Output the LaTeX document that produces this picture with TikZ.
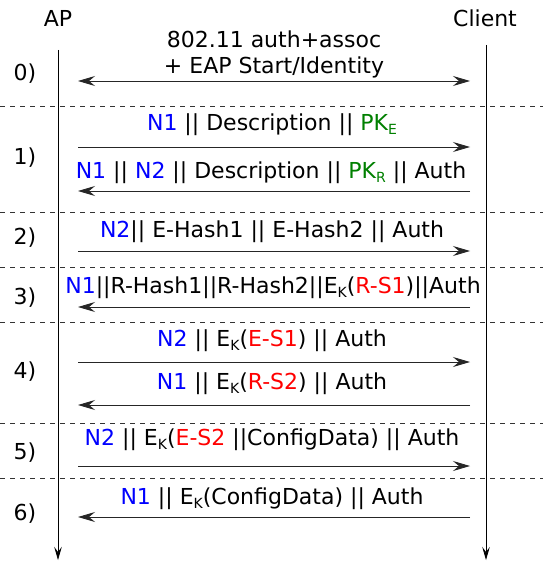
\documentclass[tikz,border=0pt]{standalone}
\usepackage{fontspec}
\setmainfont{DejaVu Sans}
\usetikzlibrary{arrows.meta}
\definecolor{nonce}{RGB}{0,0,255}
\definecolor{secret}{RGB}{255,0,0}
\definecolor{pubkey}{RGB}{0,128,0}
\newcommand\lowidx[1]{\raisebox{-0.3ex}{\fontsize{14}{14}\selectfont #1}}
\newcommand\Nc[1]{\textcolor{nonce}{#1}}
\newcommand\Sc[1]{\textcolor{secret}{#1}}
\newcommand\Pc[1]{\textcolor{pubkey}{#1}}
\tikzset{
  lbl/.style={inner sep=0pt, font=\fontsize{22}{26}\selectfont},
  msg/.style={draw=black!85, line width=0.9pt, -{Stealth[length=17pt,width=10pt,inset=6pt]}},
  lifeline/.style={draw=black, line width=0.8pt, -{Stealth[length=13pt,width=7.5pt,inset=5pt]}},
  sep/.style={draw=black!80, line width=0.6pt, dash pattern=on 5pt off 5pt},
}
\begin{document}
\begin{tikzpicture}[x=1pt,y=-1pt]
\useasboundingbox (0,0) rectangle (543,561);
\fill[white] (0,0) rectangle (543,561);

% participants
\node[lbl] (ap) at (58,18) {AP};
\node[lbl] (cl) at (485,18) {Client};
\coordinate (apT) at (58,50);  \coordinate (apB) at (58,560);
\coordinate (clT) at (486,45); \coordinate (clB) at (486,560);
\draw[lifeline] (apT) -- (apB);
\draw[lifeline] (clT) -- (clB);

% phase separators
\foreach \y/\n in {106/s1,212/s2,267/s3,322/s4,423/s5,478/s6}{
  \coordinate (\n L) at (0,\y); \coordinate (\n R) at (543,\y);
  \draw[sep] (\n L) -- (\n R);
}

% phase numbers
\foreach \y/\t in {74/0,158/1,238/2,298/3,372/4,453/5,514/6}
  \node[lbl] (ph\t) at (25,\y) {\t)};

% message end points
\foreach \n/\y in {a/81,b/147,c/191,d/251,e/307,f/362,g/405,h/466,i/517}{
  \coordinate (\n L) at (78,\y); \coordinate (\n R) at (470,\y);
}

% 0) association
\node[lbl] (t0a) at (274,39) {802.11 auth+assoc};
\node[lbl] (t0b) at (274,67) {+ EAP Start/Identity};
\draw[msg, {Stealth[length=17pt,width=10pt,inset=6pt]}-{Stealth[length=17pt,width=10pt,inset=6pt]}] (aL) -- (aR);

% 1)
\node[lbl] (t1) at (272,125) {\Nc{N1} || Description || \Pc{PK\lowidx{E}}};
\draw[msg] (bL) -- (bR);
\node[lbl] (t2) at (271,173) {\Nc{N1} || \Nc{N2} || Description || \Pc{PK\lowidx{R}} || Auth};
\draw[msg] (cR) -- (cL);

% 2)
\node[lbl] (t3) at (272,232) {\Nc{N2}|| E-Hash1 || E-Hash2 || Auth};
\draw[msg] (dL) -- (dR);

% 3)
\node[lbl] (t4) at (273,288) {\Nc{N1}||R-Hash1||R-Hash2||E\lowidx{K}(\Sc{R-S1})||Auth};
\draw[msg] (eR) -- (eL);

% 4)
\node[lbl] (t5) at (272,341) {\Nc{N2} || E\lowidx{K}(\Sc{E-S1}) || Auth};
\draw[msg] (fL) -- (fR);
\node[lbl] (t6) at (272,384) {\Nc{N1} || E\lowidx{K}(\Sc{R-S2}) || Auth};
\draw[msg] (gR) -- (gL);

% 5)
\node[lbl] (t7) at (272,440) {\Nc{N2} || E\lowidx{K}(\Sc{E-S2} ||ConfigData) || Auth};
\draw[msg] (hL) -- (hR);

% 6)
\node[lbl] (t8) at (272,499) {\Nc{N1} || E\lowidx{K}(ConfigData) || Auth};
\draw[msg] (iR) -- (iL);
\end{tikzpicture}
\end{document}
